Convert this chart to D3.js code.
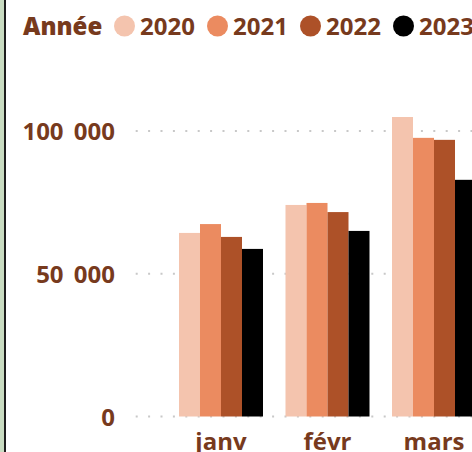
<!DOCTYPE html>
<html><head><meta charset="utf-8">
<script src="https://cdn.jsdelivr.net/npm/d3@7"></script>
<style>
html,body{margin:0;padding:0;background:#fff;overflow:hidden}
svg text{font-family:"Open Sans","Noto Sans",sans-serif;font-weight:700;fill:#773a1d}
</style></head>
<body>
<script>
const months = ["janv", "févr", "mars"];
const years = ["2020", "2021", "2022", "2023"];
const colors = ["#f4c4ae", "#eb8b60", "#ad5128", "#000000"];
const v2020 = [64300, 74100, 104900];
const v2021 = [67400, 74800, 97600];
const v2022 = [62900, 71600, 96900];
const v2023 = [58700, 65000, 82900];
const yTicks = [0, 50000, 100000];
const yTickLabels = ["0", "50 000", "100 000"];
const legendTitle = "Année";

const series = [v2020, v2021, v2022, v2023];
const W = 472, H = 452;
const svg = d3.select("body").append("svg").attr("width", W).attr("height", H);
svg.append("rect").attr("width", W).attr("height", H).attr("fill", "#fff");

const y = d3.scaleLinear().domain([0, 120000]).range([416.5, 73.9]);
const x0 = d3.scaleBand().domain(months).range([167.75, 487.25]).paddingInner(0.2113).paddingOuter(0.1056);
const x1 = d3.scaleBand().domain(years).range([0, x0.bandwidth()]).padding(0);

// gridlines
const grid = svg.append("g");
grid.selectAll("line").data(yTicks).join("line")
  .attr("x1", 135.7).attr("x2", W)
  .attr("y1", d => y(d)).attr("y2", d => y(d))
  .attr("stroke", "#c8c8c8").attr("stroke-width", 2)
  .attr("stroke-dasharray", "2 10.4");

// y axis labels
const yAxis = d3.axisLeft(y).tickValues(yTicks).tickSize(0).tickPadding(0)
  .tickFormat((d, i) => yTickLabels[i]);
const ga = svg.append("g").attr("transform", "translate(115,0)").call(yAxis);
ga.select(".domain").remove();
ga.selectAll("text").attr("font-size", 24).attr("fill", "#773a1d")
  .style("font-family", '"Open Sans","Noto Sans",sans-serif').style("font-weight", 700)
  .attr("dy", "0.36em").style("word-spacing", "4px");

// bars
const groups = svg.append("g").selectAll("g").data(months).join("g")
  .attr("transform", d => `translate(${x0(d)},0)`);
groups.selectAll("rect").data((m, i) => years.map((yr, k) => ({yr, k, v: series[k][i]}))).join("rect")
  .attr("x", d => x1(d.yr)).attr("width", x1.bandwidth())
  .attr("y", d => y(d.v)).attr("height", d => y(0) - y(d.v))
  .attr("fill", d => colors[d.k]);

// x axis labels
const xAxis = d3.axisBottom(x0).tickSize(0).tickPadding(0);
const gx = svg.append("g").attr("transform", "translate(0,450)").call(xAxis);
gx.select(".domain").remove();
gx.selectAll("text").attr("dy", 0).attr("font-size", 24).attr("fill", "#773a1d")
  .style("font-family", '"Open Sans","Noto Sans",sans-serif').style("font-weight", 700);

// legend
const lg = svg.append("g");
lg.append("text").attr("x", 23).attr("y", 35).attr("font-size", 24).style("font-weight", 800)
  .text(legendTitle);
const items = lg.selectAll("g.item").data(years).join("g").attr("class", "item")
  .attr("transform", (d, i) => `translate(${124.5 + i * 93},0)`);
items.append("circle").attr("cx", 0).attr("cy", 26).attr("r", 10.5).attr("fill", (d, i) => colors[i]);
items.append("text").attr("x", 15.5).attr("y", 35).attr("font-size", 24).text(d => d);

// left border
svg.append("rect").attr("x", 0).attr("y", 0).attr("width", 4).attr("height", H).attr("fill", "#c9dcc2");
svg.append("rect").attr("x", 4).attr("y", 0).attr("width", 2).attr("height", H).attr("fill", "#1e1e1e");
</script>
</body></html>
